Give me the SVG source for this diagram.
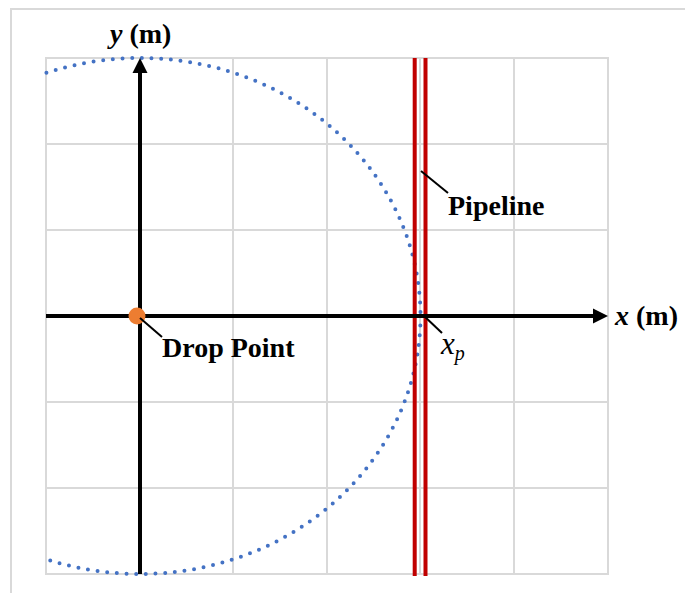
<svg xmlns="http://www.w3.org/2000/svg" width="685" height="593" viewBox="0 0 685 593">
<style>
.grid{stroke:#d9d9d9;stroke-width:2;fill:none}
.axis{stroke:#000;stroke-width:4;fill:none}
.pipe{stroke:#c00000;stroke-width:4;fill:none}
.lead{stroke:#000;stroke-width:2;fill:none}
.lbl{font-family:"Liberation Serif","Times New Roman",serif;font-weight:bold;font-size:28px;fill:#000}
</style>
<defs>
<clipPath id="gc"><rect x="44" y="54" width="566" height="524"/></clipPath>
</defs>
<rect width="685" height="593" fill="#fff"/>
<path class="grid" d="M11,593 V9 H685"/>
<g id="grid" class="grid">
<rect x="46" y="58" width="562" height="516"/>
<path d="M233,58V574M327,58V574M420,58V574M514,58V574M46,144H608M46,230H608M46,402H608M46,488H608"/>
</g>
<g id="range">
<ellipse cx="140" cy="316" rx="280.5" ry="258" clip-path="url(#gc)" fill="none" stroke="#4472c4" stroke-width="4" stroke-linecap="round" stroke-dasharray="0 9.7"/>
</g>
<g id="pipeline">
<path class="pipe" d="M414.7,58V576M425.5,58V576"/>
</g>
<g id="axes">
<path class="axis" d="M46,316H594M140,574V72"/>
<path d="M608,316L593,308.5V323.5Z" fill="#000"/>
<path d="M140,58L132.5,73H147.5Z" fill="#000"/>
</g>
<g id="drop-point">
<circle cx="137" cy="316" r="8.5" fill="#ed7d31"/>
</g>
<g id="connectors">
<path class="lead" d="M140,318L162,337"/>
<path class="lead" d="M421,171L448,193"/>
<path class="lead" d="M423,315L442,333"/>
</g>
<g id="labels">
<text class="lbl" x="110" y="43" font-size="26"><tspan font-style="italic">y</tspan> (m)</text>
<text class="lbl" x="615" y="325" font-size="26"><tspan font-style="italic">x</tspan> (m)</text>
<text class="lbl" x="162" y="357">Drop Point</text>
<text class="lbl" x="448" y="215">Pipeline</text>
<text x="441" y="354" font-family="'Liberation Serif','Times New Roman',serif" font-style="italic" font-size="31">x<tspan font-size="20" dy="6">p</tspan></text>
</g>
</svg>
